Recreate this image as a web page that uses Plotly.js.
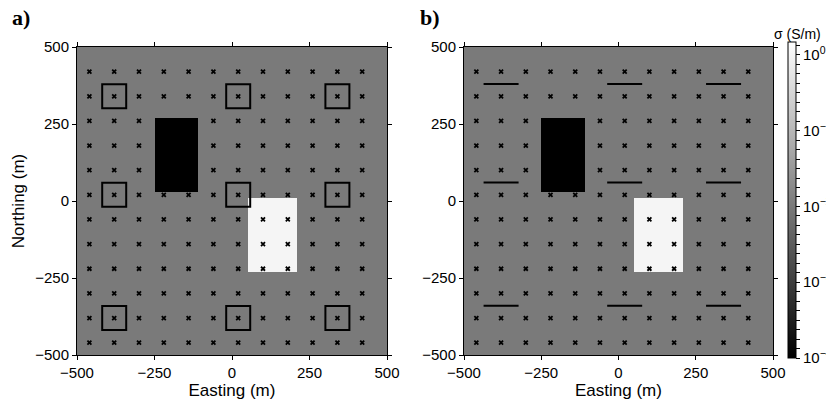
<!DOCTYPE html>
<html>
<head>
<meta charset="utf-8">
<script src="https://cdn.plot.ly/plotly-3.0.1.min.js"></script>
<style>html,body{margin:0;padding:0;background:#fff;}#chart{width:826px;height:405px;overflow:hidden;}</style>
</head>
<body>
<div id="chart"></div>
<script>
// ---- data ----
const extent = [-500, 500];
const bgLogSigma = -2;                 // background log10(sigma)
const blockX0 = [-250, 50];
const blockX1 = [-110, 210];
const blockY0 = [30, -230];
const blockY1 = [270, 10];
const blockLogSigma = [-4, 0];         // resistor, conductor
const stationX = [-460, -380, -300, -220, -140, -60, 20, 100, 180, 260, 340, 420];
const stationY = [-460, -380, -300, -220, -140, -60, 20, 100, 180, 260, 340, 420];
const loopX = [-380, 20, 340];
const loopY = [340, 20, -380];
const dipoleX = [-380, 20, 340];
const dipoleY = [380, 60, -340];
const axisTicks = [-500, -250, 0, 250, 500];
const cbTickVals = [-4, -3, -2, -1, 0];
const cbTickText = ['10<sup>−4</sup>', '10<sup>−3</sup>', '10<sup>−2</sup>', '10<sup>−1</sup>', '10<sup>0</sup>'];
const cbMin = -4, cbMax = 0.17;

// ---- build model grid ----
const uniq = a => Array.from(new Set(a)).sort((p, q) => p - q);
const xe = uniq([...extent, ...blockX0, ...blockX1]);
const ye = uniq([...extent, ...blockY0, ...blockY1]);
const z = [];
for (let j = 0; j < ye.length - 1; j++) {
  const yc = (ye[j] + ye[j + 1]) / 2;
  const row = [];
  for (let i = 0; i < xe.length - 1; i++) {
    const xc = (xe[i] + xe[i + 1]) / 2;
    let v = bgLogSigma;
    for (let k = 0; k < blockX0.length; k++) {
      if (xc > blockX0[k] && xc < blockX1[k] && yc > blockY0[k] && yc < blockY1[k]) v = blockLogSigma[k];
    }
    row.push(v);
  }
  z.push(row);
}
const sx = [], sy = [];
stationY.forEach(y => stationX.forEach(x => { sx.push(x); sy.push(y); }));
const lx = [], ly = [];
loopY.forEach(y => loopX.forEach(x => { lx.push(x); ly.push(y); }));
const dx = [], dy = [];
dipoleY.forEach(y => dipoleX.forEach(x => { dx.push(x); dy.push(y); }));

// colorbar tick positions (minor steps)
const cbTv = [], cbTt = [];
for (let v = -4; v <= 0.13; v += 0.125) {
  const r = Math.round(v * 1000) / 1000;
  cbTv.push(r);
  const idx = cbTickVals.indexOf(r);
  cbTt.push(idx >= 0 ? cbTickText[idx] : '');
}

const gray = [[0, '#000000'], [1, '#ffffff']];
const hm = (xa, ya, show) => ({
  type: 'heatmap', x: xe, y: ye, z: z, xaxis: xa, yaxis: ya,
  colorscale: gray, zmin: cbMin, zmax: cbMax, showscale: show, hoverinfo: 'skip',
  colorbar: {
    thickness: 8, len: 316 / 405, lenmode: 'fraction', x: 788 / 826, xanchor: 'left',
    y: 1 - 200 / 405, yanchor: 'middle', xpad: 0, ypad: 0,
    outlinewidth: 1, outlinecolor: '#000',
    tickmode: 'array', tickvals: cbTv, ticktext: cbTt,
    ticks: 'outside', ticklen: 4, tickcolor: '#000', tickwidth: 1,
    tickfont: {size: 15, color: '#000'}
  }
});
const stations = (xa, ya) => ({
  type: 'scatter', mode: 'markers', x: sx, y: sy, xaxis: xa, yaxis: ya, hoverinfo: 'skip',
  marker: {symbol: 'x-thin-open', size: 4, color: '#000', line: {width: 1.8, color: '#000'}}
});

const data = [
  hm('x', 'y', false),
  hm('x2', 'y2', true),
  stations('x', 'y'),
  stations('x2', 'y2'),
  {type: 'scatter', mode: 'markers', x: lx, y: ly, xaxis: 'x', yaxis: 'y', hoverinfo: 'skip',
   marker: {symbol: 'square-open', size: 24, color: '#000', line: {width: 2, color: '#000'}}},
  {type: 'scatter', mode: 'markers', x: dx, y: dy, xaxis: 'x2', yaxis: 'y2', hoverinfo: 'skip',
   marker: {symbol: 'line-ew-open', size: 25, color: '#000', line: {width: 2, color: '#000'}}}
];

const axBase = {
  range: extent, tickmode: 'array', tickvals: axisTicks, ticks: 'outside', ticklen: 4,
  tickcolor: '#000', showline: true, linecolor: '#000', linewidth: 1, mirror: 'ticks',
  showgrid: false, zeroline: false, tickfont: {size: 15, color: '#000'}, fixedrange: true,
  automargin: false
};
const xdomA = [77 / 826, 387 / 826], xdomB = [464 / 826, 773 / 826];
const ydom = [1 - 355 / 405, 1 - 47 / 405];

const layout = {
  width: 826, height: 405, margin: {l: 0, r: 0, t: 0, b: 0, autoexpand: false},
  paper_bgcolor: '#ffffff', plot_bgcolor: '#ffffff', showlegend: false,
  font: {family: 'Liberation Sans, Arial, Helvetica, sans-serif', color: '#000'},
  xaxis: Object.assign({}, axBase, {domain: xdomA, anchor: 'y', title: {text: 'Easting (m)', font: {size: 17}, standoff: 4}}),
  yaxis: Object.assign({}, axBase, {domain: ydom, anchor: 'x', title: {text: 'Northing (m)', font: {size: 17}, standoff: 6}}),
  xaxis2: Object.assign({}, axBase, {domain: xdomB, anchor: 'y2', title: {text: 'Easting (m)', font: {size: 17}, standoff: 4}}),
  yaxis2: Object.assign({}, axBase, {domain: ydom, anchor: 'x2'}),
  annotations: [
    {text: '<b>a)</b>', xref: 'paper', yref: 'paper', x: 10 / 826, y: 1 - 18 / 405, xanchor: 'left', yanchor: 'middle',
     showarrow: false, font: {family: 'Liberation Serif, Times New Roman, serif', size: 22}},
    {text: '<b>b)</b>', xref: 'paper', yref: 'paper', x: 418 / 826, y: 1 - 18 / 405, xanchor: 'left', yanchor: 'middle',
     showarrow: false, font: {family: 'Liberation Serif, Times New Roman, serif', size: 22}},
    {text: 'σ (S/m)', xref: 'paper', yref: 'paper', x: 797 / 826, y: 1 - 34 / 405, xanchor: 'center', yanchor: 'middle',
     showarrow: false, font: {size: 14}}
  ]
};

Plotly.newPlot('chart', data, layout, {staticPlot: true, displayModeBar: false});
</script>
</body>
</html>
